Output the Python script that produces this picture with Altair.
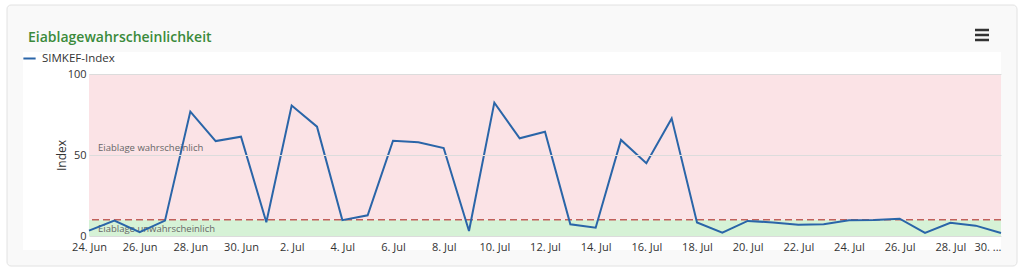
import altair as alt
import pandas as pd

# ---- data ----
dates = pd.date_range("2023-06-24", "2023-07-30", freq="D").strftime("%Y-%m-%d").tolist()
simkef = [3.3, 9.5, 2.3, 9.5, 76.8, 58.6, 61.3, 8.5, 80.5, 67.5,
          9.8, 12.8, 58.8, 57.8, 54.3, 3.1, 82.3, 60.3, 64.4, 7.2,
          5.1, 59.3, 44.9, 72.6, 8.4, 2.1, 9.3, 8.4, 7.0, 7.2,
          9.7, 9.9, 10.7, 1.9, 8.2, 6.4, 1.9]
series_name = "SIMKEF-Index"

band_names = ["Eiablage unwahrscheinlich", "Eiablage wahrscheinlich"]
band_low = [0, 10]
band_high = [10, 100]
band_colors = ["#d6f2d6", "#fbe3e6"]
band_label_y = [4.3, 54.3]
threshold = [10]

x_tick_dates = ["2023-06-24", "2023-06-26", "2023-06-28", "2023-06-30", "2023-07-02",
                "2023-07-04", "2023-07-06", "2023-07-08", "2023-07-10", "2023-07-12",
                "2023-07-14", "2023-07-16", "2023-07-18", "2023-07-20", "2023-07-22",
                "2023-07-24", "2023-07-26", "2023-07-28", "2023-07-30"]
x_tick_labels = ["24. Jun", "26. Jun", "28. Jun", "30. Jun", "2. Jul",
                 "4. Jul", "6. Jul", "8. Jul", "10. Jul", "12. Jul",
                 "14. Jul", "16. Jul", "18. Jul", "20. Jul", "22. Jul",
                 "24. Jul", "26. Jul", "28. Jul", "30. ..."]
y_ticks = [0, 50, 100]

title_text = "Eiablagewahrscheinlichkeit"

FONT = "Open Sans"

line_df = pd.DataFrame({"date": dates, "value": simkef, "series": series_name})
band_df = pd.DataFrame({"name": band_names, "lo": band_low, "hi": band_high,
                        "color": band_colors, "ly": band_label_y,
                        "start": dates[0], "end": dates[-1]})
thr_df = pd.DataFrame({"y": threshold})

def dt(s):
    y, m, d = (int(p) for p in s.split("-"))
    return alt.DateTime(year=y, month=m, date=d, utc=True)

x_scale = alt.Scale(type="utc", domain=[dt(dates[0]), dt(dates[-1])], nice=False)
y_scale = alt.Scale(domain=[0, 100], nice=False)

label_expr = ("[" + ",".join(f"'{l}'" for l in x_tick_labels) + "][indexof(["
              + ",".join(f"'{d}'" for d in x_tick_dates)
              + "], utcFormat(datum.value, '%Y-%m-%d'))]")
last_test = f"utcFormat(datum.value, '%Y-%m-%d') == '{x_tick_dates[-1]}'"

x_axis = alt.Axis(values=[dt(d) for d in x_tick_dates], labelExpr=label_expr,
                  labelAlign={"condition": {"test": last_test, "value": "right"},
                              "value": "center"},
                  title=None, domain=False, ticks=False, grid=False, zindex=1,
                  labelFlush=False, labelOverlap=False, labelPadding=5,
                  labelFontSize=11, labelColor="#333333", labelFont=FONT)
y_axis = alt.Axis(values=y_ticks, title="Index", domain=False, ticks=False,
                  grid=True, gridColor="#dcdcdc", gridWidth=1, zindex=1,
                  labelFontSize=11, labelColor="#333333", labelFont=FONT,
                  labelPadding=3, titleFont=FONT, titleFontSize=12,
                  titleFontWeight="normal", titleColor="#333333",
                  titleX=-21, titleY=81)

one = alt.Data(values=[{}])

card = alt.Chart(one).mark_rect(fill="#f9f9f9", stroke="#e2e2e2", strokeWidth=1,
                                cornerRadius=4).encode(
    x=alt.value(-82), x2=alt.value(928), y=alt.value(-69), y2=alt.value(192))
white = alt.Chart(one).mark_rect(fill="#ffffff").encode(
    x=alt.value(-66), x2=alt.value(912), y=alt.value(-22), y2=alt.value(176))

bands = alt.Chart(band_df).mark_rect().encode(
    x=alt.X("start:T", scale=x_scale, axis=x_axis),
    x2="end:T",
    y=alt.Y("lo:Q", scale=y_scale, axis=y_axis),
    y2="hi:Q",
    color=alt.Color("color:N", scale=None),
)

band_text = alt.Chart(band_df).mark_text(align="left", baseline="middle", dx=9,
                                         font=FONT, fontSize=9.5, color="#666666").encode(
    x=alt.X("start:T", scale=x_scale),
    y=alt.Y("ly:Q", scale=y_scale),
    text="name:N",
)

thr = alt.Chart(thr_df).mark_rule(color="#c0605a", strokeDash=[7, 4], strokeWidth=1.5).encode(
    y=alt.Y("y:Q", scale=y_scale))

line = alt.Chart(line_df).mark_line(strokeWidth=2).encode(
    x=alt.X("date:T", scale=x_scale),
    y=alt.Y("value:Q", scale=y_scale),
    color=alt.Color("series:N", scale=alt.Scale(domain=[series_name], range=["#2a65a8"]),
                    legend=alt.Legend(title=None, orient="none", legendX=-67, legendY=-23,
                                      symbolType="stroke", symbolSize=150,
                                      symbolStrokeWidth=2, labelFont=FONT,
                                      labelFontSize=11.5, labelColor="#333333",
                                      labelOffset=5)),
)

title = alt.Chart(one).mark_text(align="left", baseline="alphabetic", font=FONT,
                                 fontSize=14, fontWeight=600, color="#3b8a3b").encode(
    x=alt.value(-61), y=alt.value(-32), text=alt.value(title_text))

menu_bar = dict(color="#333333", strokeWidth=2.5)
menu = alt.layer(
    alt.Chart(one).mark_rule(**menu_bar).encode(x=alt.value(886), x2=alt.value(900), y=alt.value(-44)),
    alt.Chart(one).mark_rule(**menu_bar).encode(x=alt.value(886), x2=alt.value(900), y=alt.value(-39)),
    alt.Chart(one).mark_rule(**menu_bar).encode(x=alt.value(886), x2=alt.value(900), y=alt.value(-34)),
)

chart = alt.layer(card, white, bands, thr, band_text, line, title, menu).properties(
    width=912, height=162,
    autosize=alt.AutoSizeParams(type="none"),
    padding={"left": 89, "top": 74, "right": 23, "bottom": 37},
    background="#ffffff",
).configure_view(stroke=None)

chart.save("out.html", embed_options={"renderer": "svg", "actions": False})
